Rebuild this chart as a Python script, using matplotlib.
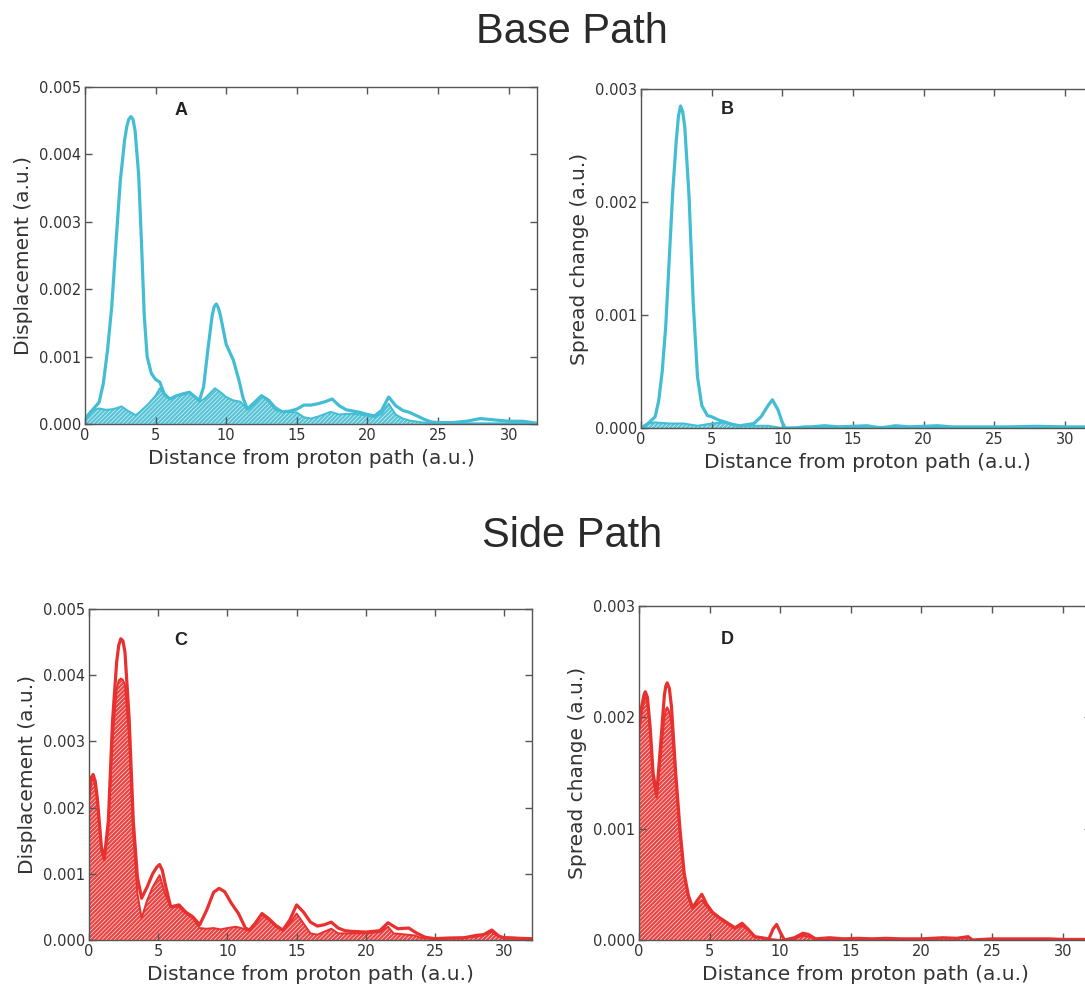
import matplotlib
matplotlib.use("Agg")
import matplotlib.pyplot as plt
import numpy as np

plt.rcParams['font.family'] = 'DejaVu Sans'
plt.rcParams['hatch.linewidth'] = 0.45

# --- data (y in units of 1e-3 a.u.) ---
# A: base path displacement
a_out_x = [0, 0.5, 1.0, 1.3, 1.6, 1.9, 2.2, 2.5, 2.8, 2.95, 3.1, 3.25, 3.4, 3.55, 3.8, 4.0, 4.2, 4.4, 4.7, 5.0,
           5.3, 5.6, 6.0, 6.5, 7.0, 7.4, 7.8, 8.1, 8.4, 8.7, 9.0, 9.15, 9.3, 9.45, 9.6, 10.0, 10.5, 10.9, 11.2,
           11.5, 12.0, 12.5, 13.0, 13.5, 14.0, 14.5, 15.0, 15.5, 16.0, 16.5, 17.0, 17.5, 18.0, 18.5, 19.0, 19.5,
           20.0, 20.5, 21.0, 21.5, 22.0, 22.5, 23.0, 23.5, 24.0, 24.5, 25.0, 26.0, 27.0, 28.0, 29.0, 30.0, 31.0,
           32.0]
a_out_y = [0.08, 0.2, 0.32, 0.6, 1.1, 1.75, 2.7, 3.6, 4.2, 4.4, 4.52, 4.56, 4.52, 4.35, 3.7, 2.7, 1.6, 1.0, 0.75,
           0.66, 0.62, 0.45, 0.37, 0.42, 0.45, 0.47, 0.4, 0.35, 0.55, 1.1, 1.6, 1.74, 1.78, 1.72, 1.6, 1.18, 0.95,
           0.65, 0.38, 0.22, 0.32, 0.42, 0.35, 0.22, 0.18, 0.19, 0.22, 0.28, 0.28, 0.3, 0.33, 0.37, 0.27, 0.21,
           0.19, 0.17, 0.14, 0.12, 0.2, 0.4, 0.27, 0.2, 0.17, 0.12, 0.07, 0.03, 0.02, 0.02, 0.04, 0.08, 0.06, 0.04,
           0.04, 0.01]
a_in_x = [0, 0.5, 1.0, 1.5, 2.0, 2.6, 3.0, 3.6, 4.0, 4.5, 5.0, 5.3, 5.7, 6.0, 6.5, 7.0, 7.4, 7.8, 8.1, 8.5, 9.2,
          9.6, 10.0, 10.5, 11.0, 11.5, 12.0, 12.5, 13.0, 13.5, 14.0, 14.5, 15.0, 15.5, 16.0, 16.5, 17.4, 18.0,
          18.5, 19.0, 19.5, 20.0, 20.5, 21.0, 21.5, 22.0, 22.5, 23.0, 24.0, 25.0, 28.0, 32.0]
a_in_y = [0.08, 0.2, 0.23, 0.21, 0.22, 0.26, 0.2, 0.13, 0.2, 0.3, 0.42, 0.53, 0.42, 0.37, 0.42, 0.44, 0.47, 0.4, 0.33,
          0.38, 0.53, 0.47, 0.4, 0.35, 0.33, 0.22, 0.3, 0.42, 0.36, 0.25, 0.18, 0.18, 0.17, 0.1, 0.08, 0.11, 0.18,
          0.14, 0.15, 0.15, 0.14, 0.12, 0.1, 0.15, 0.3, 0.14, 0.08, 0.05, 0.02, 0.01, 0.01, 0.01]

# B: base path spread change
b_out_x = [0, 0.5, 1.0, 1.25, 1.5, 1.75, 2.0, 2.25, 2.5, 2.65, 2.8, 2.95, 3.1, 3.4, 3.7, 4.0, 4.3, 4.7, 5.0, 5.5,
           6.0, 6.5, 7.0, 7.5, 8.0, 8.5, 9.0, 9.3, 9.7, 10.0, 10.2, 11.0, 11.5, 12.0, 13.0, 14.0, 15.0, 16.0,
           17.0, 18.0, 19.0, 20.0, 21.0, 22.0, 23.0, 24.0, 26.0, 28.0, 30.0, 32.0]
b_out_y = [0, 0.04, 0.1, 0.24, 0.5, 0.9, 1.5, 2.1, 2.55, 2.76, 2.85, 2.8, 2.66, 2.05, 1.1, 0.45, 0.2, 0.11, 0.1, 0.07,
           0.05, 0.03, 0.02, 0.03, 0.04, 0.1, 0.2, 0.25, 0.16, 0.05, 0.0, 0.0, 0.01, 0.01, 0.02, 0.01, 0.015, 0.02,
           0.0, 0.02, 0.01, 0.015, 0.02, 0.01, 0.01, 0.01, 0.01, 0.015, 0.01, 0.01]
b_in_x = [0, 0.5, 1.0, 2.0, 3.0, 4.0, 5.0, 6.0, 7.0, 8.0, 9.0, 9.5, 10.0, 12.0, 14.0, 16.0, 18.0, 20.0, 24.0, 28.0, 32.0]
b_in_y = [0, 0.04, 0.05, 0.04, 0.04, 0.02, 0.04, 0.05, 0.02, 0.02, 0.02, 0.01, 0.0, 0.01, 0.01, 0.01, 0.01, 0.01,
          0.005, 0.005, 0.0]

# C: side path displacement
c_out_x = [0, 0.15, 0.3, 0.45, 0.6, 0.9, 1.1, 1.4, 1.7, 2.0, 2.15, 2.3, 2.45, 2.6, 2.9, 3.2, 3.5, 3.8, 4.2, 4.6,
           4.9, 5.1, 5.3, 5.5, 5.9, 6.5, 7.0, 7.5, 8.0, 8.5, 9.0, 9.4, 9.8, 10.3, 10.8, 11.3, 11.6, 12.0, 12.5,
           13.0, 13.5, 14.0, 14.5, 15.0, 15.5, 16.0, 16.5, 17.0, 17.5, 18.0, 18.5, 19.0, 20.0, 21.0, 21.6, 22.3,
           23.1, 23.7, 24.3, 25.0, 26.0, 27.0, 28.0, 28.5, 29.1, 29.6, 30.0, 32.0]
c_out_y = [2.15, 2.45, 2.5, 2.4, 2.15, 1.4, 1.22, 1.8, 3.3, 4.2, 4.45, 4.55, 4.52, 4.35, 3.35, 1.8, 0.95, 0.63, 0.8,
           1.0, 1.1, 1.14, 1.05, 0.85, 0.5, 0.53, 0.42, 0.35, 0.23, 0.45, 0.72, 0.78, 0.73, 0.55, 0.4, 0.18, 0.15,
           0.25, 0.4, 0.32, 0.22, 0.15, 0.3, 0.53, 0.42, 0.27, 0.21, 0.23, 0.27, 0.18, 0.14, 0.13, 0.12, 0.14, 0.26,
           0.17, 0.18, 0.1, 0.04, 0.02, 0.03, 0.03, 0.07, 0.08, 0.15, 0.06, 0.03, 0.02]
c_in_x = [0, 0.15, 0.3, 0.45, 0.6, 0.9, 1.1, 1.4, 1.7, 2.0, 2.15, 2.3, 2.45, 2.6, 2.9, 3.2, 3.5, 3.8, 4.2, 4.6, 5.1,
          5.5, 5.9, 6.5, 7.0, 7.5, 8.0, 8.5, 9.0, 9.5, 10.0, 10.6, 11.0, 11.5, 12.0, 12.5, 13.0, 13.5, 14.0, 14.5,
          15.0, 15.5, 16.0, 16.5, 17.5, 18.0, 19.0, 20.0, 21.0, 21.6, 22.0, 23.0, 23.5, 24.0, 25.0, 28.0, 29.1,
          29.6, 32.0]
c_in_y = [2.1, 2.4, 2.45, 2.35, 2.1, 1.35, 1.2, 1.7, 3.0, 3.8, 3.92, 3.95, 3.93, 3.85, 3.05, 1.6, 0.7, 0.33, 0.6,
          0.8, 0.98, 0.7, 0.5, 0.5, 0.4, 0.33, 0.18, 0.17, 0.18, 0.16, 0.18, 0.2, 0.18, 0.14, 0.25, 0.38, 0.3, 0.2,
          0.14, 0.25, 0.4, 0.25, 0.1, 0.08, 0.17, 0.1, 0.1, 0.1, 0.12, 0.2, 0.1, 0.08, 0.07, 0.03, 0.02, 0.05, 0.12,
          0.05, 0.02]

# D: side path spread change
d_out_x = [0, 0.2, 0.35, 0.45, 0.6, 0.8, 1.0, 1.25, 1.5, 1.8, 1.9, 2.0, 2.15, 2.3, 2.6, 2.9, 3.2, 3.5, 3.8, 4.1,
           4.45, 4.8, 5.2, 5.7, 6.3, 6.8, 7.3, 7.7, 8.2, 8.7, 9.2, 9.5, 9.75, 10.0, 10.3, 11.0, 11.6, 12.0, 12.5,
           13.5, 14.5, 15.5, 16.5, 17.5, 18.5, 20.0, 21.5, 22.5, 23.3, 23.6, 25.0, 27.0, 29.0, 30.0, 32.0]
d_out_y = [1.9, 2.1, 2.2, 2.23, 2.18, 1.9, 1.5, 1.3, 1.7, 2.2, 2.28, 2.31, 2.26, 2.1, 1.5, 1.0, 0.6, 0.4, 0.29, 0.35,
           0.41, 0.32, 0.25, 0.2, 0.15, 0.11, 0.15, 0.1, 0.03, 0.02, 0.01, 0.1, 0.14, 0.07, 0.0, 0.02, 0.06, 0.05,
           0.01, 0.02, 0.01, 0.015, 0.01, 0.015, 0.01, 0.01, 0.02, 0.015, 0.03, 0.0, 0.01, 0.01, 0.01, 0.005, 0.005]
d_in_x = [0, 0.2, 0.35, 0.45, 0.6, 0.8, 1.0, 1.25, 1.5, 1.8, 1.9, 2.0, 2.15, 2.3, 2.6, 2.9, 3.2, 3.5, 3.8, 4.1,
          4.45, 4.8, 5.2, 5.7, 6.3, 6.8, 7.3, 7.7, 8.2, 8.7, 9.2, 10.0, 11.0, 11.6, 12.0, 12.5, 14.0, 16.0, 18.0,
          20.0, 21.5, 23.3, 23.6, 25.0, 32.0]
d_in_y = [1.85, 2.05, 2.15, 2.18, 2.13, 1.85, 1.45, 1.28, 1.6, 2.0, 2.07, 2.09, 2.05, 1.95, 1.45, 0.95, 0.58, 0.38,
          0.28, 0.32, 0.36, 0.3, 0.24, 0.19, 0.14, 0.1, 0.13, 0.09, 0.03, 0.02, 0.01, 0.0, 0.01, 0.04, 0.03, 0.01,
          0.01, 0.01, 0.01, 0.01, 0.015, 0.02, 0.0, 0.005, 0.0]

cyan = '#43bdd3'
red = '#e8312f'
xlabel = 'Distance from proton path (a.u.)'

panels = [
    # rect, letter, letter pos, ylabel, ymax, color, outer, inner
    ([0.0783, 0.5709, 0.4166, 0.3411], 'A', (0.212, 0.93), 'Displacement (a.u.)', 0.005, cyan,
     (a_out_x, a_out_y), (a_in_x, a_in_y)),
    ([0.5908, 0.5668, 0.4166, 0.3431], 'B', (0.19, 0.94), 'Spread change (a.u.)', 0.003, cyan,
     (b_out_x, b_out_y), (b_in_x, b_in_y)),
    ([0.0820, 0.0486, 0.4083, 0.3350], 'C', (0.208, 0.905), 'Displacement (a.u.)', 0.005, red,
     (c_out_x, c_out_y), (c_in_x, c_in_y)),
    ([0.5889, 0.0486, 0.4166, 0.3380], 'D', (0.195, 0.90), 'Spread change (a.u.)', 0.003, red,
     (d_out_x, d_out_y), (d_in_x, d_in_y)),
]

fig = plt.figure(figsize=(10.85, 9.88), dpi=100)

for rect, letter, lpos, ylab, ymax, col, outer, inner in panels:
    ax = fig.add_axes(rect)
    ox, oy = np.array(outer[0]), np.array(outer[1]) * 1e-3
    ix, iy = np.array(inner[0]), np.array(inner[1]) * 1e-3

    # hatched area for the inner curve
    ax.fill_between(ix, 0, iy, facecolor=col, edgecolor='white', hatch='////////', linewidth=0, alpha=0.9)
    ax.plot(ix, iy, color=col, lw=1.4, solid_joinstyle='round')
    ax.plot(ox, oy, color=col, lw=2.3, solid_joinstyle='round', solid_capstyle='round')

    ax.set_xlim(0, 32)
    ax.set_ylim(0, ymax)
    ax.set_xticks(np.arange(0, 31, 5))
    ax.set_yticks(np.arange(0, ymax + 1e-9, 0.001))
    ax.yaxis.set_major_formatter(matplotlib.ticker.FormatStrFormatter('%.3f'))
    ax.tick_params(direction='in', top=True, right=True, length=5, width=1,
                   labelsize=10.5, colors='#555555', labelcolor='#333333', pad=3)
    for s in ax.spines.values():
        s.set_color('#555555')
        s.set_linewidth(1.0)
    ax.set_xlabel(xlabel, fontsize=14.5, color='#333333', labelpad=4)
    ax.set_ylabel(ylab, fontsize=14.5, color='#333333', labelpad=4)
    ax.text(lpos[0], lpos[1], letter, transform=ax.transAxes, fontsize=13, fontweight='bold',
            family='Liberation Sans', color='#222222', ha='center', va='center')

fig.text(0.527, 0.968, 'Base Path', fontsize=30, family='Liberation Sans', color='#2a2a2a', ha='center', va='center')
fig.text(0.527, 0.457, 'Side Path', fontsize=30, family='Liberation Sans', color='#2a2a2a', ha='center', va='center')

fig.savefig('out.png', dpi=100)
